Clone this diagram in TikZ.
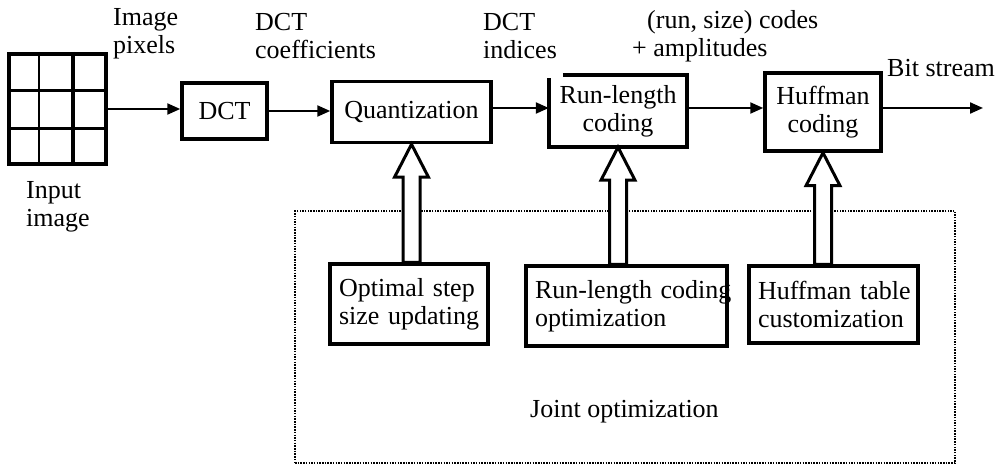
\documentclass[tikz,border=0pt]{standalone}
\usepackage{fontspec}
\setmainfont{Liberation Serif}
\usetikzlibrary{arrows.meta,calc}

% hollow block arrow pointing up from the top of #1 to the bottom of #2
\newcommand{\hollowup}[2]{%
  \draw[fat] let \p1=(#1.north), \p2=(#2.south) in
    (\x2-8.5pt,\y1) -- (\x2-8.5pt,\y2-33pt) -- (\x2-17pt,\y2-33pt) -- (\x2,\y2)
    -- (\x2+17pt,\y2-33pt) -- (\x2+8.5pt,\y2-33pt) -- (\x2+8.5pt,\y1) -- cycle;}

\begin{document}
\begin{tikzpicture}[x=1pt,y=-1pt,
  every node/.style={font=\fontsize{26}{28}\selectfont},
  block/.style={draw,line width=3.5pt,inner sep=0pt,align=center},
  subblock/.style={draw,line width=3.5pt,inner xsep=9pt,inner ysep=0pt,align=left},
  lbl/.style={inner sep=0pt,align=left,anchor=north west},
  flow/.style={line width=2.2pt,-{Triangle[length=13pt,width=11pt]}},
  fat/.style={line width=3pt,fill=white,line join=miter},
  joint/.style={draw,line width=2.3pt,dash pattern=on 1.5pt off 1.2pt,inner sep=0pt}]

\useasboundingbox (0,0) rectangle (998,465);

% input image as a 3x3 pixel grid
\node[draw,line width=4pt,minimum width=97pt,minimum height=110pt,inner sep=0pt] (img) at (57.5,109) {};
\draw[line width=2.3pt] ($(img.north west)!0.32!(img.north east)$) -- ($(img.south west)!0.32!(img.south east)$);
\draw[line width=4pt] ($(img.north west)!0.65!(img.north east)$) -- ($(img.south west)!0.65!(img.south east)$);
\draw[line width=3pt] ($(img.north west)!0.336!(img.south west)$) -- ($(img.north east)!0.336!(img.south east)$);
\draw[line width=3pt] ($(img.north west)!0.67!(img.south west)$) -- ($(img.north east)!0.67!(img.south east)$);

% coding chain
\node[block,minimum width=85pt,minimum height=56pt] (dct) at (224.5,111) {DCT};
\node[block,minimum width=159pt,minimum height=61pt] (quant) at (411.5,112) {Quantization};
\node[inner sep=0pt,align=center,minimum width=138pt,minimum height=72pt] (rlc) at (618,111) {Run-length\\coding};
\draw[line width=3.5pt] ($(rlc.north west)+(14,0)$) -- (rlc.north east) -- (rlc.south east)
  -- (rlc.south west) -- ($(rlc.north west)+(0,3)$);
\node[block,minimum width=116pt,minimum height=78pt] (huff) at (823,112) {Huffman\\coding};
\coordinate (out) at (983,108);

% joint optimization region
\node[joint,minimum width=660pt,minimum height=252pt] (jbox) at (625,337) {};
\node[lbl] (jlbl) at (530,400) {Joint optimization};

% optimization blocks
\node[subblock,text width=140pt,minimum height=80pt] (opt) at (409,304) {\mbox{Optimal step}\\\mbox{size updating}};
\node[subblock,text width=183pt,minimum height=80pt] (rlcopt) at (626.5,306) {\mbox{Run-length coding}\\\mbox{optimization}};
\node[subblock,text width=151pt,minimum height=77pt] (hufft) at (833.5,304.5) {\mbox{Huffman table}\\\mbox{customization}};

% signal flow
\draw[flow] (img.east) -- (img.east -| dct.west);
\draw[flow] (dct.east) -- (dct.east -| quant.west);
\draw[flow] (quant.east |- out) -- (rlc.west |- out);
\draw[flow] (rlc.east |- out) -- (huff.west |- out);
\draw[flow] (huff.east |- out) -- (out);

% feedback from the optimization blocks
\hollowup{opt}{quant}
\hollowup{rlcopt}{rlc}
\hollowup{hufft}{huff}

% data labels
\node[lbl] (lpix) at (113,8) {Image\\pixels};
\node[lbl] (lin) at (26,181) {Input\\image};
\node[lbl] (lcoef) at (255,13) {DCT\\coefficients};
\node[lbl] (lidx) at (483,13) {DCT\\indices};
\node[lbl] (lcode) at (632,10) {\hspace*{15pt}(run, size) codes\\+ amplitudes};
\node[lbl] (lbit) at (887,59) {Bit stream};
\end{tikzpicture}
\end{document}
